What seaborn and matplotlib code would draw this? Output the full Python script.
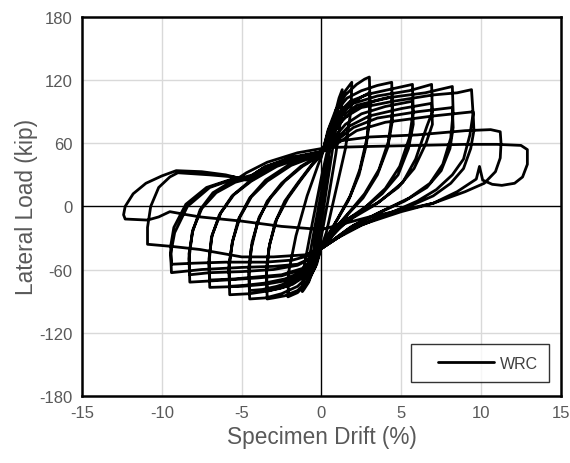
import numpy as np
import pandas as pd
import matplotlib
matplotlib.use("Agg")
import matplotlib.pyplot as plt
from matplotlib.legend_handler import HandlerLine2D
import seaborn as sns

# --- hysteresis data: drift (%) / lateral load (kip), cycle by cycle ---
drift_c01 = [0.0, 0.15, 0.3, 0.2, 0.0, -0.15, -0.3, -0.2, 0.0]
load_c01 = [0, 18, 34, 20, 2, -14, -27, -16, 0]

drift_c02 = [0.0, 0.25, 0.5, 0.4, 0.1, -0.2, -0.5, -0.4, -0.1, 0.0]
load_c02 = [0, 30, 58, 40, 10, -20, -45, -30, -5, 2]

drift_c03 = [0.0, 0.4, 0.75, 0.95, 0.85, 0.5, 0.1, -0.3, -0.7, -0.9, -0.8, -0.4, 0.0]
load_c03 = [2, 45, 78, 92, 70, 35, -5, -38, -63, -72, -52, -18, 14]

drift_c04 = [0.0, 0.4, 0.8, 1.1, 1.3, 1.25, 0.9, 0.4, 0.0, -0.4, -0.8, -1.1, -1.2, -1.1, -0.6, 0.0]
load_c04 = [14, 52, 85, 103, 111, 88, 50, 5, -28, -55, -72, -79, -81, -58, -18, 28]

drift_c05 = [0.0, 0.5, 1.0, 1.5, 1.9, 1.85, 1.5, 0.9, 0.3, 0.0, -0.4, -0.9, -1.5, -2.1, -2.05, -1.6, -0.9, -0.2, 0.0]
load_c05 = [28, 62, 92, 110, 118, 92, 55, 15, -25, -38, -58, -73, -82, -86, -62, -28, 10, 40, 47]

drift_c06 = [0.0, 0.4, 0.9, 1.5, 2.2, 2.7, 3.0, 3.05, 2.85, 2.4, 1.8, 1.0, 0.3, 0.0, -0.3, -0.8, -1.5, -2.3, -3.0, -3.4,
             -3.45, -3.3, -2.9, -2.3, -1.5, -0.7, 0.0]
load_c06 = [47, 72, 92, 106, 116, 121, 123, 95, 65, 35, 10, -12, -30, -38, -55, -70, -80, -85, -87, -88,
            -65, -40, -15, 5, 22, 38, 50]

drift_c07 = [0.0, 0.5, 1.1, 1.8, 2.5, 3.0, 3.05, 2.8, 2.35, 1.7, 0.9, 0.3, 0.0, -0.4, -1.0, -1.8, -2.6, -3.4,
             -3.45, -3.25, -2.8, -2.1, -1.3, -0.6, 0.0]
load_c07 = [50, 68, 85, 97, 104, 108, 85, 58, 30, 6, -15, -31, -39, -54, -66, -74, -78, -80,
            -60, -36, -12, 8, 25, 39, 49]

drift_c08 = [0.0, 0.5, 1.0, 1.6, 2.5, 3.5, 4.4, 4.45, 4.2, 3.6, 2.7, 1.6, 0.6, 0.0, -0.3, -0.8, -1.5, -2.5, -3.5, -4.5,
             -4.55, -4.4, -4.0, -3.4, -2.5, -1.3, 0.0]
load_c08 = [49, 75, 92, 103, 110, 115, 118, 90, 62, 35, 12, -8, -25, -38, -52, -66, -76, -83, -87, -88,
            -65, -40, -15, 5, 22, 38, 50]

drift_c09 = [0.0, 0.6, 1.3, 2.2, 3.3, 4.4, 4.45, 4.15, 3.5, 2.6, 1.5, 0.5, 0.0, -0.4, -1.0, -1.8, -2.8, -3.7, -4.5,
             -4.55, -4.35, -3.9, -3.2, -2.3, -1.2, 0.0]
load_c09 = [50, 66, 82, 93, 100, 104, 82, 56, 30, 8, -10, -27, -39, -52, -63, -71, -76, -79, -80,
            -58, -34, -10, 8, 24, 38, 49]

drift_c10 = [0.0, 0.5, 1.0, 1.8, 3.0, 4.5, 5.7, 5.75, 5.5, 4.9, 4.0, 2.8, 1.2, 0.0, -0.4, -1.0, -2.0, -3.2, -4.5, -5.75,
             -5.8, -5.6, -5.2, -4.5, -3.5, -2.0, 0.0]
load_c10 = [49, 72, 88, 100, 107, 112, 116, 90, 65, 38, 17, 0, -17, -38, -52, -65, -75, -80, -83, -84,
            -60, -35, -12, 8, 25, 40, 51]

drift_c11 = [0.0, 0.7, 1.5, 2.5, 4.0, 5.7, 5.75, 5.45, 4.8, 3.8, 2.5, 1.0, 0.0, -0.5, -1.2, -2.3, -3.6, -4.8, -5.75,
             -5.8, -5.55, -5.1, -4.4, -3.4, -1.9, 0.0]
load_c11 = [51, 64, 78, 88, 95, 100, 78, 55, 30, 12, -4, -22, -39, -52, -62, -69, -73, -75, -76,
            -55, -32, -10, 9, 24, 39, 50]

drift_c12 = [0.0, 0.6, 1.2, 2.0, 3.5, 5.5, 6.9, 6.95, 6.6, 5.9, 5.1, 3.6, 1.6, 0.0, -0.4, -1.0, -2.0, -3.5, -5.0, -7.0,
             -7.05, -6.9, -6.4, -5.6, -4.5, -3.0, -1.5, 0.0]
load_c12 = [50, 72, 88, 98, 105, 110, 116, 90, 76, 45, 23, 4, -12, -38, -50, -62, -70, -74, -76, -77,
            -55, -30, -8, 10, 24, 38, 46, 51]

drift_c13 = [0.0, 0.8, 1.7, 3.0, 5.0, 6.9, 6.95, 6.55, 5.8, 4.8, 3.3, 1.5, 0.0, -0.5, -1.2, -2.5, -4.0, -5.5, -7.0,
             -7.05, -6.85, -6.3, -5.5, -4.4, -2.8, -1.3, 0.0]
load_c13 = [51, 62, 76, 86, 93, 98, 78, 60, 36, 18, 1, -15, -39, -50, -59, -65, -67, -69, -70,
            -50, -27, -6, 11, 24, 38, 46, 51]

drift_c14 = [0.0, 0.6, 1.3, 2.2, 4.0, 6.5, 8.2, 8.25, 8.1, 7.6, 6.8, 5.5, 4.0, 2.0, 0.0, -0.5, -1.2, -2.5, -4.0, -6.0,
             -8.25, -8.3, -8.1, -7.6, -6.8, -5.5, -4.3, -3.0, -1.5, 0.0]
load_c14 = [51, 70, 86, 96, 103, 108, 114, 90, 65, 40, 22, 8, -3, -18, -40, -50, -60, -66, -68, -70,
            -72, -50, -25, -3, 13, 25, 30, 40, 47, 52]

drift_c15 = [0.0, 0.9, 2.0, 3.5, 6.0, 8.2, 8.25, 8.05, 7.5, 6.6, 5.2, 3.6, 1.8, 0.0, -0.6, -1.5, -3.0, -5.0, -7.0, -8.25,
             -8.3, -8.05, -7.5, -6.6, -5.4, -4.4, -3.0, -1.5, 0.0]
load_c15 = [52, 62, 75, 84, 90, 94, 75, 55, 34, 18, 5, -6, -20, -40, -49, -56, -60, -62, -63, -65,
            -45, -22, -2, 13, 23, 27, 38, 46, 51]

drift_c16 = [0.0, 0.7, 1.5, 2.5, 4.5, 7.0, 8.5, 9.4, 9.5, 9.3, 8.9, 8.2, 7.2, 6.0, 4.5, 2.5, 1.0, 0.0,
             -0.5, -1.5, -3.0, -5.0, -7.5, -9.4, -9.45, -9.2, -8.4, -7.0, -5.5, -4.6, -3.5, -1.8, 0.0]
load_c16 = [51, 70, 85, 94, 100, 106, 108, 111, 88, 68, 45, 30, 16, 5, -5, -18, -30, -40,
            -48, -55, -57, -58, -60, -63, -45, -25, 0, 18, 26, 27, 38, 47, 52]

drift_c17 = [0.0, 1.0, 2.2, 4.0, 7.0, 9.5, 9.55, 9.35, 8.9, 8.1, 7.0, 5.5, 3.5, 1.5, 0.0,
             -0.6, -1.8, -3.5, -6.0, -8.0, -9.4, -9.45, -9.25, -8.5, -7.2, -5.6, -4.7, -3.6, -1.9, 0.0]
load_c17 = [52, 60, 72, 80, 86, 90, 72, 55, 36, 22, 10, 0, -10, -25, -40,
            -46, -51, -53, -53, -54, -55, -38, -20, 2, 18, 26, 26, 37, 46, 51]

drift_c18 = [0.0, 1.0, 3.0, 6.0, 9.0, 10.6, 11.2, 11.25, 11.2, 10.9, 10.2, 9.0, 7.0, 5.0, 2.0, 0.0,
             -1.0, -3.0, -5.0, -7.6, -9.4, -10.9, -10.9, -10.7, -10.2, -9.5, -9.0, -7.0, -5.5, -4.7, -4.0, -2.0, 0.0]
load_c18 = [51, 62, 66, 68, 72, 73, 71, 60, 46, 33, 22, 14, 3, -5, -20, -40,
            -46, -48, -48, -41, -38, -36, -20, 0, 18, 28, 32, 30, 28, 25, 33, 45, 52]

drift_c19 = [0.0, 0.5, 3.0, 6.0, 9.0, 11.0, 12.5, 12.9, 12.9, 12.6, 12.1, 11.3, 10.7, 10.1, 9.9, 9.7, 8.5, 7.0, 5.5,
             3.0, 1.0, 0.0, -2.5, -5.0, -7.6, -8.4, -9.5, -10.2, -10.9, -12.3, -12.4, -12.3, -11.8, -11.0, -10.0,
             -9.1, -7.5, -6.0, -5.2, -4.7, -3.4, -1.5, 0.0]
load_c19 = [52, 56, 57, 58, 59, 59, 58, 54, 40, 28, 22, 20, 21, 25, 38, 26, 14, 3, -2,
            -10, -18, -22, -19, -14, -10, -8, -5, -10, -13, -12, -8, 0, 12, 22, 29,
            34, 33, 30, 27, 32, 42, 51, 55]

drift_cycles = [drift_c01, drift_c02, drift_c03, drift_c04, drift_c05, drift_c06, drift_c07, drift_c08,
                drift_c09, drift_c10, drift_c11, drift_c12, drift_c13, drift_c14, drift_c15, drift_c16,
                drift_c17, drift_c18, drift_c19]
load_cycles = [load_c01, load_c02, load_c03, load_c04, load_c05, load_c06, load_c07, load_c08,
               load_c09, load_c10, load_c11, load_c12, load_c13, load_c14, load_c15, load_c16,
               load_c17, load_c18, load_c19]

x_ticks = [-15, -10, -5, 0, 5, 10, 15]
y_ticks = [-180, -120, -60, 0, 60, 120, 180]

df = pd.DataFrame({
    "drift": np.concatenate(drift_cycles),
    "load": np.concatenate(load_cycles),
})

sns.set_style("white")
plt.rcParams["font.family"] = ["Liberation Sans", "DejaVu Sans"]
plt.rcParams["axes.unicode_minus"] = False

fig = plt.figure(figsize=(5.7, 4.64), dpi=100)
ax = fig.add_axes([0.144, 0.145, 0.84, 0.816])

# grid + zero lines
for xv in x_ticks:
    if xv not in (-15, 0, 15):
        ax.axvline(xv, color="#d9d9d9", lw=1.0, zorder=0)
for yv in y_ticks:
    if yv not in (-180, 0, 180):
        ax.axhline(yv, color="#d9d9d9", lw=1.0, zorder=0)
ax.axhline(0, color="black", lw=1.0, zorder=1)
ax.axvline(0, color="black", lw=1.0, zorder=1)

sns.lineplot(data=df, x="drift", y="load", sort=False, estimator=None,
             color="black", lw=2.0, ax=ax, label="WRC", zorder=3)

ax.set_xlim(-15, 15)
ax.set_ylim(-180, 180)
ax.set_xticks(x_ticks)
ax.set_yticks(y_ticks)
for s in ax.spines.values():
    s.set_visible(True)
    s.set_color("black")
    s.set_linewidth(1.8)
ax.tick_params(direction="inout", length=6, width=1.5, colors="black",
               labelcolor="#595959", labelsize=12, pad=4)

ax.set_xlabel("Specimen Drift (%)", fontsize=16.3, color="#595959", labelpad=3)
ax.set_ylabel("Lateral Load (kip)", fontsize=16.3, color="#595959", labelpad=1)

line_handle = ax.get_legend_handles_labels()[0][0]
leg = ax.legend(loc="lower right", frameon=True, fancybox=False, fontsize=11.5,
                handlelength=4.5, handletextpad=0.35, borderpad=0.7,
                bbox_to_anchor=(0.975, 0.037), borderaxespad=0,
                handler_map={line_handle: HandlerLine2D(xpad=1.0)})
leg.get_frame().set_edgecolor("black")
leg.get_frame().set_linewidth(1.0)
for t in leg.get_texts():
    t.set_color("#404040")

fig.savefig("out.png", dpi=100)
